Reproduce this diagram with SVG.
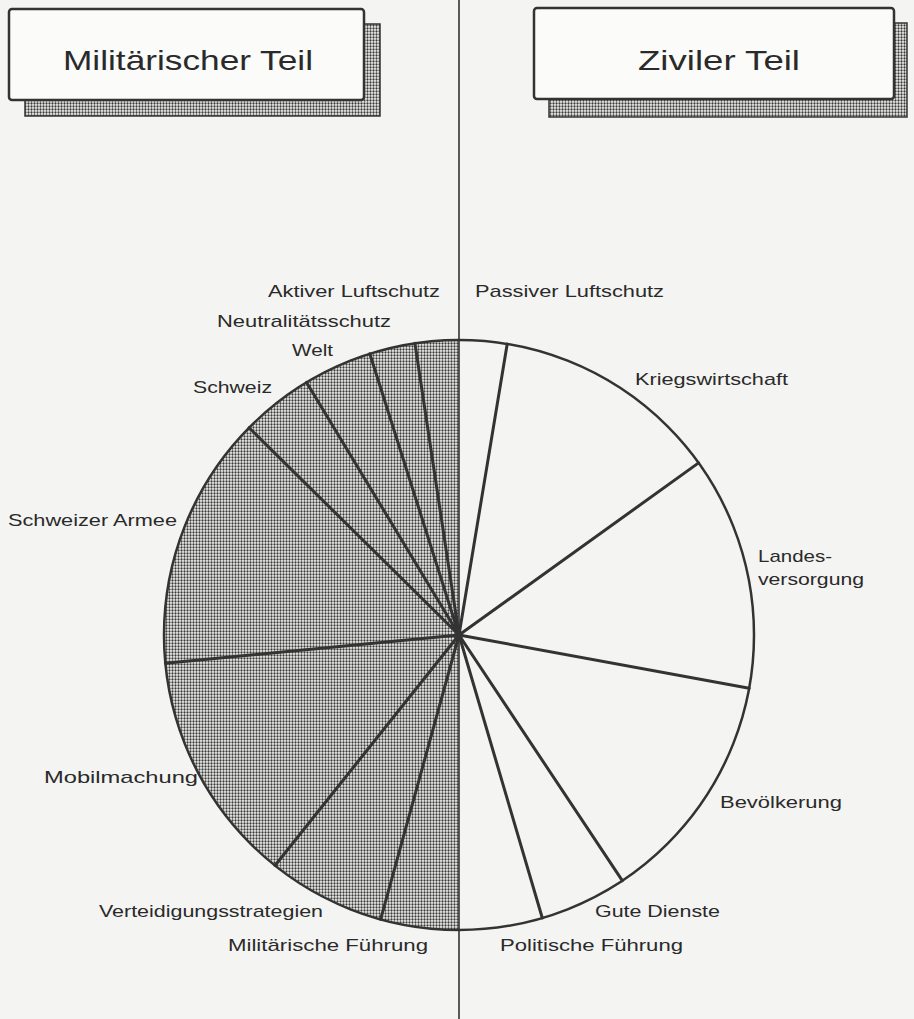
<svg xmlns="http://www.w3.org/2000/svg" width="914" height="1019" viewBox="0 0 914 1019">
<defs>
<pattern id="dots" width="3" height="3" patternUnits="userSpaceOnUse">
<rect width="3" height="3" fill="#f4f4f2"/>
<circle cx="1.5" cy="1.5" r="1.15" fill="#3a3a3a"/>
</pattern>
<style>
.lbl{font-family:"Liberation Sans",Arial,sans-serif;font-size:17px;fill:#2a2a2a}
.hdr{font-family:"Liberation Sans",Arial,sans-serif;font-size:28px;fill:#2a2a2a}
.box{fill:#fbfbfa;stroke:#333;stroke-width:2.5}
.shadow{fill:url(#dots);stroke:#333;stroke-width:1.5}
.spoke{stroke:#333;stroke-width:3;stroke-linecap:round}
</style>
</defs>
<rect width="914" height="1019" fill="#f4f4f2"/>

<g id="header-militaer">
<rect class="shadow" x="25" y="24" width="355" height="92"/>
<rect class="box" x="9" y="9" width="355" height="91" rx="3"/>
<text class="hdr" x="63" y="70" textLength="250" lengthAdjust="spacingAndGlyphs">Militärischer Teil</text>
</g>
<g id="header-zivil">
<rect class="shadow" x="549" y="23" width="358" height="94"/>
<rect class="box" x="534" y="8" width="360" height="91" rx="3"/>
<text class="hdr" x="638" y="70" textLength="162" lengthAdjust="spacingAndGlyphs">Ziviler Teil</text>
</g>

<g id="pie">
<path d="M459 340 A295 295 0 0 0 459 930 Z" fill="url(#dots)"/>
<circle cx="459" cy="635" r="295" fill="none" stroke="#333" stroke-width="2.5"/>
</g>

<g id="connectors">
<line x1="459" y1="0" x2="459" y2="1019" stroke="#333" stroke-width="1.6"/>
<line class="spoke" x1="459" y1="635" x2="507.2" y2="344"/>
<line class="spoke" x1="459" y1="635" x2="698.6" y2="462.9"/>
<line class="spoke" x1="459" y1="635" x2="749.2" y2="688.2"/>
<line class="spoke" x1="459" y1="635" x2="622.3" y2="880.7"/>
<line class="spoke" x1="459" y1="635" x2="542.3" y2="918"/>
<line class="spoke" x1="459" y1="635" x2="380.6" y2="919.4"/>
<line class="spoke" x1="459" y1="635" x2="275" y2="865.5"/>
<line class="spoke" x1="459" y1="635" x2="165.4" y2="663.3"/>
<line class="spoke" x1="459" y1="635" x2="249.1" y2="427.7"/>
<line class="spoke" x1="459" y1="635" x2="306.6" y2="382.4"/>
<line class="spoke" x1="459" y1="635" x2="369.8" y2="353.8"/>
<line class="spoke" x1="459" y1="635" x2="414.9" y2="343.3"/>
<circle cx="459" cy="635" r="4" fill="#333"/>
</g>

<g id="seg-aktiver-luftschutz"><text class="lbl" x="268" y="297" textLength="172" lengthAdjust="spacingAndGlyphs">Aktiver Luftschutz</text></g>
<g id="seg-neutralitaetsschutz"><text class="lbl" x="217" y="327" textLength="174" lengthAdjust="spacingAndGlyphs">Neutralitätsschutz</text></g>
<g id="seg-welt"><text class="lbl" x="292" y="356" textLength="41" lengthAdjust="spacingAndGlyphs">Welt</text></g>
<g id="seg-schweiz"><text class="lbl" x="193" y="393" textLength="79" lengthAdjust="spacingAndGlyphs">Schweiz</text></g>
<g id="seg-schweizer-armee"><text class="lbl" x="8" y="526" textLength="169" lengthAdjust="spacingAndGlyphs">Schweizer Armee</text></g>
<g id="seg-mobilmachung"><text class="lbl" x="44" y="783" textLength="154" lengthAdjust="spacingAndGlyphs">Mobilmachung</text></g>
<g id="seg-verteidigungsstrategien"><text class="lbl" x="99" y="917" textLength="224" lengthAdjust="spacingAndGlyphs">Verteidigungsstrategien</text></g>
<g id="seg-militaerische-fuehrung"><text class="lbl" x="228" y="951" textLength="200" lengthAdjust="spacingAndGlyphs">Militärische Führung</text></g>
<g id="seg-passiver-luftschutz"><text class="lbl" x="475" y="297" textLength="189" lengthAdjust="spacingAndGlyphs">Passiver Luftschutz</text></g>
<g id="seg-kriegswirtschaft"><text class="lbl" x="635" y="385" textLength="153" lengthAdjust="spacingAndGlyphs">Kriegswirtschaft</text></g>
<g id="seg-landesversorgung"><text class="lbl" x="758" y="562" textLength="74" lengthAdjust="spacingAndGlyphs">Landes-</text><text class="lbl" x="758" y="585" textLength="106" lengthAdjust="spacingAndGlyphs">versorgung</text></g>
<g id="seg-bevoelkerung"><text class="lbl" x="720" y="808" textLength="122" lengthAdjust="spacingAndGlyphs">Bevölkerung</text></g>
<g id="seg-gute-dienste"><text class="lbl" x="595" y="917" textLength="125" lengthAdjust="spacingAndGlyphs">Gute Dienste</text></g>
<g id="seg-politische-fuehrung"><text class="lbl" x="500" y="951" textLength="183" lengthAdjust="spacingAndGlyphs">Politische Führung</text></g>
</svg>
